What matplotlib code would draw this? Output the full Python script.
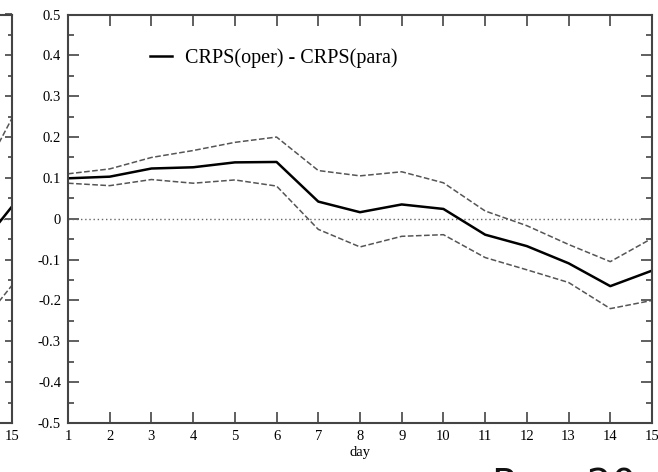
import numpy as np
import matplotlib.pyplot as plt
from matplotlib.ticker import MultipleLocator

# data
days = np.arange(1, 16)
crps_diff = [0.099, 0.103, 0.123, 0.126, 0.138, 0.139, 0.042, 0.016, 0.035, 0.024,
             -0.039, -0.067, -0.109, -0.165, -0.127]
upper = [0.110, 0.122, 0.150, 0.167, 0.187, 0.200, 0.118, 0.105, 0.115, 0.088,
         0.019, -0.017, -0.063, -0.105, -0.048]
lower = [0.087, 0.081, 0.096, 0.087, 0.095, 0.080, -0.026, -0.069, -0.043, -0.039,
         -0.095, -0.125, -0.156, -0.220, -0.200]

# the neighbouring panel, only its last two days are visible at the left edge
prev_days = [14, 15]
prev_mid = [-0.098, 0.030]
prev_up = [0.053, 0.246]
prev_low = [-0.290, -0.163]

plt.rcParams['font.family'] = ['Liberation Serif', 'DejaVu Serif']
spine_col = '#444444'

fig = plt.figure(figsize=(6.58, 4.72), dpi=100)


def style_axes(ax):
    ax.set_xlim(1, 15)
    ax.set_ylim(-0.5, 0.5)
    ax.xaxis.set_major_locator(MultipleLocator(1))
    ax.yaxis.set_major_locator(MultipleLocator(0.1))
    ax.yaxis.set_minor_locator(MultipleLocator(0.05))
    for s in ax.spines.values():
        s.set_linewidth(1.5)
        s.set_color(spine_col)
    ax.tick_params(which='both', direction='in', top=True, right=True,
                   color=spine_col, width=1.2, labelsize=10.5, pad=5)
    ax.tick_params(which='major', length=8)
    ax.tick_params(which='minor', length=4)
    ax.axhline(0, color='#666666', lw=1.0, ls=(0, (1, 2)))


# left neighbour (cut off)
ax0 = fig.add_axes([12 / 658 - 584 / 658, 1 - 423 / 472, 584 / 658, 408.5 / 472])
style_axes(ax0)
ax0.plot(prev_days, prev_mid, color='black', lw=1.8)
ax0.plot(prev_days, prev_up, color='#555555', lw=1.1, ls='--')
ax0.plot(prev_days, prev_low, color='#555555', lw=1.1, ls='--')
ax0.tick_params(which='major', length=5)
ax0.tick_params(which='minor', length=3)
ax0.set_yticklabels([])
ax0.set_xticks(days)
ax0.set_xticklabels([''] * 14 + ['15'])

# main panel
ax = fig.add_axes([68 / 658, 1 - 423 / 472, 584 / 658, 408.5 / 472])
style_axes(ax)
ax.plot(days, crps_diff, color='black', lw=1.8, label='CRPS(oper) - CRPS(para)')
ax.plot(days, upper, color='#555555', lw=1.1, ls='--')
ax.plot(days, lower, color='#555555', lw=1.1, ls='--')
ax.set_yticks(np.round(np.arange(-0.5, 0.51, 0.1), 1))
ax.set_yticklabels(['-0.5', '-0.4', '-0.3', '-0.2', '-0.1', '0',
                    '0.1', '0.2', '0.3', '0.4', '0.5'])
ax.set_xlabel('day', fontsize=10.5, labelpad=2)
ax.legend(loc='center left', bbox_to_anchor=(0.14, 0.8935), frameon=False,
          fontsize=14.5, handlelength=1.1, handletextpad=0.65,
          borderpad=0, borderaxespad=0)

fig.text(492 / 658, 1 - 467 / 472, 'Рис. 20', family='DejaVu Sans',
         fontsize=28, va='top', ha='left', color='#111111')

plt.savefig('out.png', dpi=100)
